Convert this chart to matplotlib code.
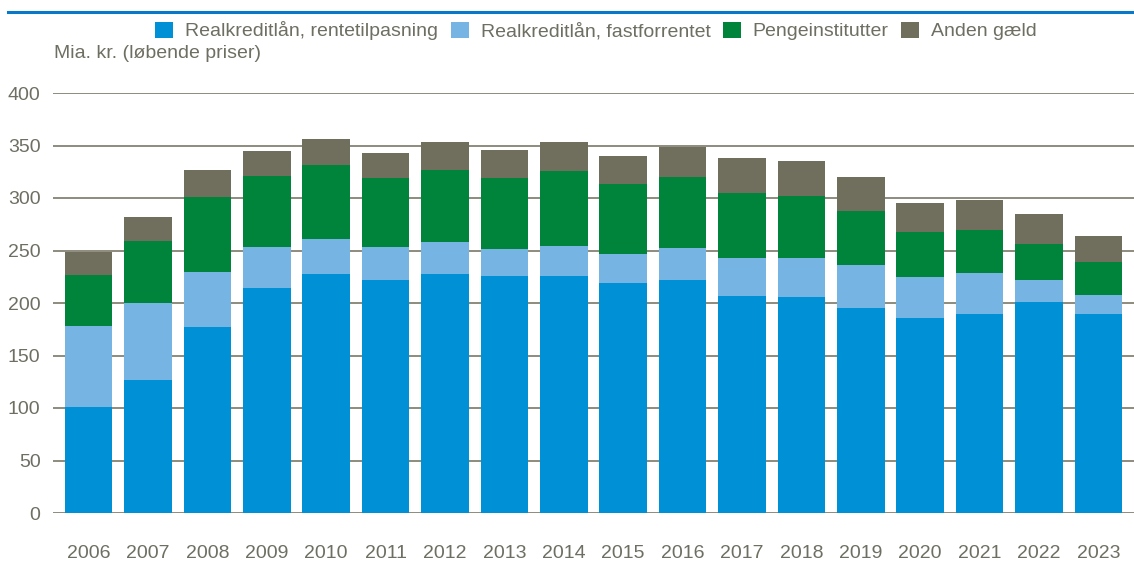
import numpy as np
import matplotlib
matplotlib.use("Agg")
import matplotlib.pyplot as plt
from matplotlib.lines import Line2D

plt.rcParams['font.family'] = ['Liberation Sans', 'DejaVu Sans']

years = [str(y) for y in range(2006, 2024)]
rentetilpasning = [101, 127, 177, 214, 228, 222, 228, 226, 226, 219, 222, 207, 206, 195, 186, 190, 201, 190]
fastforrentet = [77, 73, 53, 39, 33, 31, 30, 25, 28, 28, 30, 36, 37, 41, 39, 39, 21, 18]
pengeinstitutter = [49, 59, 71, 68, 70, 66, 69, 68, 72, 66, 68, 62, 59, 52, 43, 41, 34, 31]
anden_gaeld = [22, 23, 26, 24, 25, 24, 26, 27, 27, 27, 29, 33, 33, 32, 27, 28, 29, 25]

labels = ['Realkreditlån, rentetilpasning', 'Realkreditlån, fastforrentet',
          'Pengeinstitutter', 'Anden gæld']
colors = ['#0090d6', '#76b4e3', '#00843b', '#706f5d']
text_grey = '#6e6e62'
fs = 14

fig = plt.figure(figsize=(11.34, 5.63), dpi=100)
ax = fig.add_axes([53 / 1134, 50 / 563, 1 - 53 / 1134, 420 / 563])

x = np.arange(len(years))
bottom = np.zeros(len(years))
series = [rentetilpasning, fastforrentet, pengeinstitutter, anden_gaeld]
handles = []
for vals, lab, col in zip(series, labels, colors):
    b = ax.bar(x, vals, width=0.8, bottom=bottom, color=col, label=lab, zorder=3)
    handles.append(b)
    bottom += np.array(vals)

ax.set_xlim(-0.6, len(years) - 0.4)
ax.set_ylim(0, 400)
ax.set_yticks(range(0, 401, 50))
ax.yaxis.grid(True, color='#8c8b7e', linewidth=1.4, zorder=0)
ax.set_axisbelow(True)
for s in ax.spines.values():
    s.set_visible(False)
ax.tick_params(axis='both', length=0, labelsize=fs, labelcolor=text_grey)
ax.tick_params(axis='y', pad=9)
ax.tick_params(axis='x', pad=23)
ax.set_xticks(x)
ax.set_xticklabels(years)

fig.legend(handles=handles, labels=labels, loc='center', ncol=4,
           bbox_to_anchor=(596 / 1134, 1 - 31 / 563), frameon=False,
           fontsize=fs, labelcolor=text_grey, handlelength=0.93,
           handleheight=0.93, handletextpad=0.62, columnspacing=0.62,
           borderaxespad=0, borderpad=0)

fig.text(54 / 1134, 1 - 54 / 563, 'Mia. kr. (løbende priser)', fontsize=fs,
         color=text_grey, ha='left', va='center')

fig.add_artist(Line2D([8 / 1134, 1], [1 - 11.5 / 563, 1 - 11.5 / 563],
                      color='#0a78c8', linewidth=2.2))

fig.savefig('out.png', dpi=100)
